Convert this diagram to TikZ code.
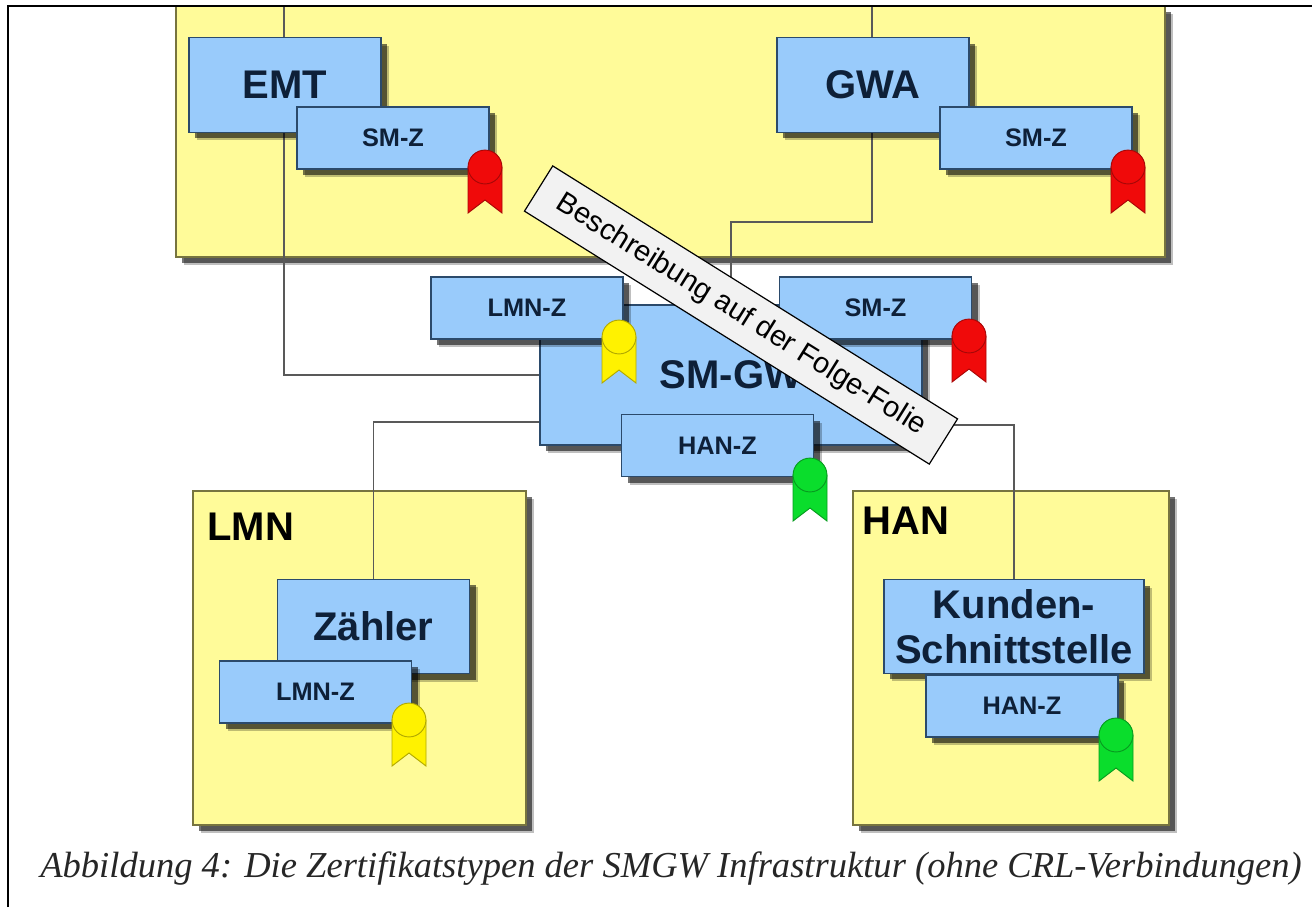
\documentclass[tikz,border=0pt]{standalone}
\usepackage{fontspec}
\setmainfont{Liberation Sans}
\newfontfamily\capfont{Liberation Serif}
\usepackage{xcolor}
\usetikzlibrary{positioning, shadows}

\pgfdeclarelayer{zones}
\pgfdeclarelayer{links}
\pgfsetlayers{zones,links,main}

\definecolor{zoneyellow}{HTML}{FFFB99}
\definecolor{zoneline}{HTML}{77743F}
\definecolor{boxblue}{HTML}{99CBFB}
\definecolor{boxline}{HTML}{2B4A6B}
\definecolor{boxtext}{HTML}{0E2038}
\definecolor{sealred}{HTML}{F00A0A}
\definecolor{sealyellow}{HTML}{FFF200}
\definecolor{sealgreen}{HTML}{0ADD2C}

% Siegel: x, y, Farbe
\newcommand{\siegel}[3]{
  \draw[draw=#3!70!black, line width=0.7pt, fill=#3] (#1-17,#2) -- (#1-17,#2+46) -- (#1,#2+33) -- (#1+17,#2+46) -- (#1+17,#2) -- cycle;
  \draw[draw=#3!70!black, line width=0.7pt, fill=#3] (#1,#2) circle (12.7pt);
}

\begin{document}
\begin{tikzpicture}[
  x=0.75pt, y=-0.75pt,
  softshadow/.style={drop shadow={shadow xshift=6pt, shadow yshift=-6pt, fill=black, opacity=.25},
    drop shadow={shadow xshift=4.5pt, shadow yshift=-4.5pt, fill=black, opacity=.55}},
  zone/.style={rectangle, draw=zoneline, line width=1.1pt, fill=zoneyellow, inner sep=0pt, softshadow},
  device/.style={rectangle, draw=boxline, line width=0.9pt, fill=boxblue, inner sep=0pt, align=center,
    text=boxtext, font=\fontsize{30}{34}\selectfont\bfseries,
    minimum width=144pt, minimum height=71pt, softshadow},
  cert/.style={device, font=\fontsize{19}{22}\selectfont\bfseries, minimum height=46.5pt},
  zonelabel/.style={anchor=west, inner sep=0pt, font=\fontsize{30}{34}\selectfont\bfseries},
  link/.style={draw=black!65, line width=1.1pt}
]
  \useasboundingbox (0,0) rectangle (1312,907);

  % Zonen
  \begin{pgfonlayer}{zones}
    \node[zone, minimum width=742pt, minimum height=188pt] (wan) at (670.5,131.5) {};
    \node[zone, minimum width=250pt, minimum height=250.5pt] (lmn) at (359.5,658) {};
    \node[zone, minimum width=237pt, minimum height=250.5pt] (han) at (1011,658) {};
  \end{pgfonlayer}
  \node[zonelabel] (lmnlabel) at (207,527) {LMN};
  \node[zonelabel] (hanlabel) at (862,521) {HAN};

  % Rahmen
  \draw[black, line width=1.5pt] (8,907) -- (8,6) -- (1312,6);

  % Geraete
  \node[device] (emt) at (285,85) {EMT};
  \node[device] (gwa) at (873,85) {GWA};
  \node[device, minimum width=286.5pt, minimum height=105pt] (smgw) at (731,375) {SM-GW};
  \node[device] (zaehler) at (373.5,626.5) {Zähler};
  \node[device, minimum width=195pt, minimum height=70pt] (kunden) at (1014,626.5) {Kunden-\\Schnittstelle};

  % Leitungen
  \coordinate (emttop) at (284,6);
  \coordinate (gwatop) at (872,6);
  \coordinate (gwabend) at (872,222);
  \coordinate (gwlmn) at (540,422);
  \coordinate (gwhan) at (922,425);
  \begin{pgfonlayer}{links}
    \draw[link] (emttop) |- (smgw.west);
    \draw[link] (gwatop) -- (gwabend) -| (smgw.north);
    \draw[link] (zaehler) |- (gwlmn);
    \draw[link] (kunden) |- (gwhan);
  \end{pgfonlayer}

  % Zertifikate
  \node[cert] (emtz) at (393,138) {SM-Z};
  \node[cert] (gwaz) at (1036,138) {SM-Z};
  \node[cert] (gwlmnz) at (527,308) {LMN-Z};
  \node[cert] (gwsmz) at (875.5,308) {SM-Z};
  \node[cert] (gwhanz) at (717.5,445.5) {HAN-Z};
  \node[cert] (zaehlerz) at (315.5,692) {LMN-Z};
  \node[cert] (kundenz) at (1022,706) {HAN-Z};

  \siegel{485}{167}{sealred}
  \siegel{1128}{167}{sealred}
  \siegel{619}{337}{sealyellow}
  \siegel{969}{336}{sealred}
  \siegel{810}{475}{sealgreen}
  \siegel{409}{720}{sealyellow}
  \siegel{1116}{735}{sealgreen}

  % Hinweis
  \node[draw=black, line width=0.9pt, fill=black!5, rotate=-32, minimum width=358pt, minimum height=40pt,
    inner sep=0pt, font=\fontsize{21.8}{26}\selectfont] (hinweis) at (741,315) {Beschreibung auf der Folge-Folie};

  % Bildunterschrift
  \node[inner sep=0pt, text=black!85, font=\capfont\itshape\fontsize{27.4}{32}\selectfont] (caption) at (671,869)
    {Abbildung 4: Die Zertifikatstypen der SMGW Infrastruktur (ohne CRL-Verbindungen)};
\end{tikzpicture}
\end{document}
